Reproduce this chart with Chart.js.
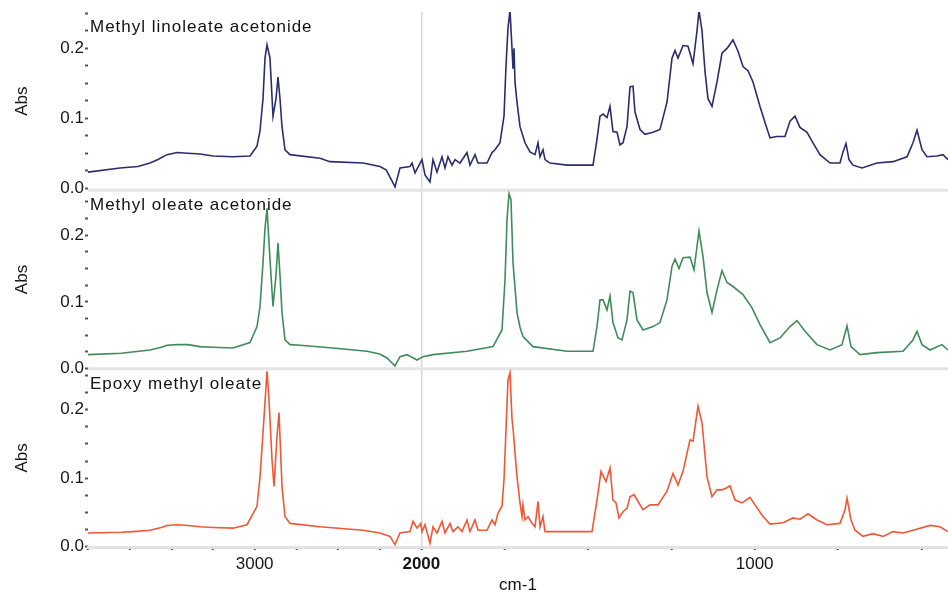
<!DOCTYPE html>
<html>
<head>
<meta charset="utf-8">
<script src="https://cdn.jsdelivr.net/npm/chart.js@4.4.1/dist/chart.umd.min.js"></script>
<style>
  html, body { margin: 0; padding: 0; background: #fff; }
  #wrap { width: 948px; height: 594px; }
</style>
</head>
<body>
<div id="wrap"><canvas id="spectra"></canvas></div>
<script>
// wavenumber axis runs 4000 -> 420 cm-1, below 2000 it is drawn at twice the scale
const X_MAX = 4000;
const X_MIN = 420;
const X_BREAK = 2000;
const xTicks = [4000, 3750, 3500, 3250, 3000, 2750, 2500, 2250, 2000, 1750, 1500, 1250, 1000, 750, 500];
const xLabelled = [3000, 2000, 1000];
const yTicks = [0, 0.025, 0.05, 0.075, 0.1, 0.125, 0.15, 0.175, 0.2, 0.225, 0.25];

const panelTitles = ['Methyl linoleate acetonide', 'Methyl oleate acetonide', 'Epoxy methyl oleate'];

const wnLinoleate = [
  4000, 3808, 3700, 3628, 3580, 3526, 3466, 3400, 3328, 3250, 3130, 3028, 2986, 2968,
  2950, 2938, 2926, 2908, 2890, 2872, 2860, 2848, 2836, 2818,
  2788, 2608, 2548, 2350, 2248, 2210, 2188, 2158, 2128, 2068, 2056,
  2038, 1998, 1989, 1974, 1965, 1953, 1938, 1929, 1920, 1908,
  1899, 1884, 1863, 1854, 1839, 1830, 1803, 1788, 1779, 1764,
  1752, 1746, 1740, 1734, 1728, 1725, 1722, 1719, 1713, 1704,
  1689, 1674, 1659, 1650, 1644, 1635, 1629, 1614, 1563, 1485,
  1473, 1464, 1455, 1443, 1434, 1425, 1413, 1404, 1395, 1383,
  1374, 1365, 1359, 1344, 1329, 1305, 1284, 1263, 1248, 1239,
  1230, 1215, 1200, 1185, 1173, 1167, 1158, 1149, 1140, 1128,
  1113, 1098, 1083, 1065, 1050, 1035, 1020, 1005, 984, 969,
  954, 933, 909, 894, 879, 864, 843, 825, 804, 774,
  744, 735, 726, 717, 705, 678, 633, 585, 543, 525,
  513, 498, 483, 453, 435, 420
];
const absLinoleate = [
  0.023, 0.029, 0.031, 0.036, 0.041, 0.048, 0.051, 0.050, 0.049, 0.046, 0.045, 0.046, 0.060, 0.082,
  0.128, 0.186, 0.205, 0.186, 0.103, 0.128, 0.159, 0.128, 0.088, 0.055,
  0.048, 0.043, 0.038, 0.036, 0.031, 0.026, 0.016, 0.002, 0.029, 0.031, 0.036,
  0.022, 0.041, 0.019, 0.009, 0.041, 0.023, 0.045, 0.029, 0.045, 0.033,
  0.041, 0.036, 0.051, 0.033, 0.048, 0.036, 0.036, 0.051, 0.055, 0.065,
  0.103, 0.175, 0.229, 0.254, 0.200, 0.171, 0.200, 0.152, 0.123, 0.088,
  0.065, 0.052, 0.048, 0.065, 0.045, 0.055, 0.041, 0.036, 0.033, 0.033,
  0.070, 0.103, 0.106, 0.101, 0.117, 0.081, 0.080, 0.062, 0.065, 0.088,
  0.145, 0.146, 0.109, 0.084, 0.077, 0.080, 0.084, 0.123, 0.186, 0.197,
  0.186, 0.204, 0.203, 0.178, 0.225, 0.254, 0.225, 0.167, 0.128, 0.117,
  0.152, 0.193, 0.200, 0.212, 0.196, 0.174, 0.168, 0.152, 0.117, 0.094,
  0.072, 0.074, 0.074, 0.096, 0.103, 0.087, 0.080, 0.065, 0.048, 0.036,
  0.036, 0.052, 0.064, 0.041, 0.033, 0.029, 0.036, 0.038, 0.045, 0.065,
  0.083, 0.055, 0.045, 0.046, 0.048, 0.041
];

const wnOleate = [
  4000, 3800, 3628, 3560, 3526, 3466, 3400, 3328, 3250, 3130, 3028, 2986, 2968, 2950,
  2938, 2926, 2908, 2890, 2872, 2860, 2848, 2836, 2818, 2788,
  2728, 2530, 2326, 2250, 2206, 2158, 2128, 2086, 2026, 1995, 1965,
  1863, 1785, 1758, 1749, 1743, 1737, 1731, 1725, 1713, 1704, 1695,
  1665, 1563, 1485, 1473, 1464, 1455, 1443, 1434, 1425, 1410,
  1398, 1383, 1374, 1365, 1353, 1335, 1305, 1284, 1263, 1248,
  1239, 1227, 1215, 1194, 1182, 1173, 1167, 1155, 1143, 1128,
  1113, 1098, 1083, 1065, 1035, 1008, 984, 954, 924, 894,
  873, 849, 813, 774, 738, 723, 711, 684, 633, 555,
  525, 513, 498, 474, 438, 420
];
const absOleate = [
  0.021, 0.023, 0.028, 0.032, 0.035, 0.036, 0.036, 0.033, 0.032, 0.031, 0.039, 0.063, 0.093, 0.159,
  0.210, 0.240, 0.163, 0.093, 0.140, 0.188, 0.140, 0.084, 0.043, 0.036,
  0.035, 0.031, 0.026, 0.022, 0.016, 0.004, 0.018, 0.021, 0.013, 0.018, 0.021,
  0.026, 0.033, 0.058, 0.133, 0.223, 0.262, 0.253, 0.159, 0.084, 0.062, 0.048,
  0.033, 0.026, 0.026, 0.063, 0.103, 0.103, 0.088, 0.109, 0.069, 0.046,
  0.043, 0.073, 0.116, 0.114, 0.073, 0.058, 0.063, 0.069, 0.103, 0.153,
  0.164, 0.150, 0.166, 0.167, 0.148, 0.183, 0.206, 0.168, 0.114, 0.084,
  0.118, 0.147, 0.129, 0.123, 0.111, 0.091, 0.066, 0.039, 0.046, 0.063,
  0.072, 0.056, 0.036, 0.028, 0.036, 0.064, 0.033, 0.021, 0.024, 0.026,
  0.043, 0.056, 0.036, 0.028, 0.036, 0.028
];

const wnEpoxy = [
  4000, 3800, 3730, 3628, 3560, 3526, 3466, 3400, 3328, 3250, 3130, 3046, 2986, 2968,
  2950, 2926, 2914, 2896, 2884, 2866, 2854, 2836, 2818, 2788,
  2608, 2350, 2248, 2188, 2158, 2128, 2068, 2050, 2026, 2004,
  1998, 1989, 1974, 1965, 1953, 1938, 1929, 1914, 1905, 1890,
  1878, 1863, 1854, 1839, 1830, 1803, 1788, 1779, 1770, 1758,
  1752, 1746, 1740, 1734, 1728, 1725, 1719, 1713, 1704, 1698,
  1695, 1689, 1680, 1668, 1659, 1650, 1644, 1635, 1629, 1614,
  1488, 1473, 1461, 1446, 1434, 1425, 1416, 1407, 1395, 1383,
  1374, 1362, 1350, 1335, 1314, 1290, 1263, 1245, 1230, 1215,
  1194, 1185, 1170, 1158, 1143, 1128, 1113, 1098, 1083, 1074,
  1059, 1038, 1014, 999, 975, 954, 915, 885, 864, 840,
  813, 783, 744, 729, 723, 711, 699, 675, 645, 615,
  585, 555, 525, 474, 444, 420
];
const absEpoxy = [
  0.020, 0.021, 0.022, 0.024, 0.028, 0.031, 0.032, 0.031, 0.029, 0.028, 0.027, 0.032, 0.059, 0.102,
  0.166, 0.256, 0.215, 0.127, 0.088, 0.161, 0.196, 0.088, 0.044, 0.034,
  0.029, 0.024, 0.020, 0.015, 0.003, 0.020, 0.022, 0.037, 0.027, 0.034,
  0.022, 0.032, 0.005, 0.029, 0.020, 0.037, 0.020, 0.034, 0.022, 0.029,
  0.022, 0.039, 0.022, 0.039, 0.024, 0.024, 0.039, 0.032, 0.049, 0.059,
  0.098, 0.171, 0.244, 0.254, 0.186, 0.174, 0.137, 0.102, 0.064, 0.044,
  0.061, 0.039, 0.044, 0.034, 0.029, 0.066, 0.029, 0.044, 0.022, 0.022,
  0.022, 0.068, 0.110, 0.095, 0.115, 0.068, 0.064, 0.042, 0.051, 0.056,
  0.073, 0.076, 0.066, 0.054, 0.061, 0.061, 0.081, 0.107, 0.090, 0.110,
  0.156, 0.154, 0.205, 0.181, 0.102, 0.073, 0.083, 0.083, 0.086, 0.089,
  0.068, 0.064, 0.072, 0.061, 0.044, 0.033, 0.035, 0.042, 0.040, 0.048,
  0.039, 0.032, 0.034, 0.054, 0.071, 0.039, 0.024, 0.015, 0.019, 0.015,
  0.022, 0.020, 0.024, 0.031, 0.029, 0.022
];

// position along the axis in "display units": 1 unit = 2 cm-1 above 2000, 1 cm-1 below
function irUnits(wn) {
  const half = (X_MAX - X_BREAK) / 2;
  return wn >= X_BREAK ? (X_MAX - wn) / 2 : half + (X_BREAK - wn);
}
const IR_SPAN = irUnits(X_MIN);

class IrScale extends Chart.LinearScale {
  buildTicks() {
    return xTicks.map(v => ({ value: v }));
  }
  getPixelForValue(v) {
    return this.getPixelForDecimal(irUnits(v) / IR_SPAN);
  }
  getValueForPixel(p) {
    const u = this.getDecimalForPixel(p) * IR_SPAN;
    const half = (X_MAX - X_BREAK) / 2;
    return u <= half ? X_MAX - 2 * u : X_BREAK - (u - half);
  }
}
IrScale.id = 'ir';
IrScale.defaults = Chart.LinearScale.defaults;
Chart.register(IrScale);

Chart.defaults.font.family = '"Liberation Sans", Arial, sans-serif';
Chart.defaults.color = '#151515';

function points(wn, abs) {
  return wn.map((x, i) => ({ x, y: abs[i] }));
}

function panelAxis(min, max) {
  return {
    type: 'linear',
    position: 'left',
    stack: 'panels',
    stackWeight: 1,
    min, max,
    border: { display: false },
    grid: { drawOnChartArea: false, tickLength: 3, tickWidth: 2, tickColor: '#555' },
    afterBuildTicks: s => { s.ticks = yTicks.map(v => ({ value: v })); },
    afterFit: s => { s.width = 88; },
    ticks: {
      autoSkip: false,
      padding: 1,
      font: { size: 17 },
      callback: v => Math.abs(v * 10 - Math.round(v * 10)) < 1e-6 ? v.toFixed(1) : ''
    },
    title: { display: true, text: 'Abs', font: { size: 17 }, padding: { top: 12, bottom: 0 } }
  };
}

const panelIds = ['yTop', 'yMid', 'yBot'];

const panelDecor = {
  id: 'panelDecor',
  beforeDatasetsDraw(chart) {
    const { ctx, chartArea } = chart;
    ctx.save();
    ctx.strokeStyle = '#e4e4e4';
    ctx.lineWidth = 3;
    panelIds.slice(0, 2).forEach(id => {
      const s = chart.scales[id];
      ctx.beginPath();
      ctx.moveTo(chartArea.left, s.bottom);
      ctx.lineTo(chartArea.right, s.bottom);
      ctx.stroke();
    });
    ctx.restore();
  },
  afterDatasetsDraw(chart) {
    const { ctx, chartArea } = chart;
    ctx.save();
    ctx.font = '17px "Liberation Sans", Arial, sans-serif';
    ctx.fillStyle = '#111';
    ctx.textBaseline = 'alphabetic';
    if ('letterSpacing' in ctx) ctx.letterSpacing = '1px';
    panelIds.forEach((id, i) => {
      const s = chart.scales[id];
      ctx.fillText(panelTitles[i], chartArea.left + 2, s.top + 20);
    });
    ctx.restore();
  }
};

new Chart(document.getElementById('spectra'), {
  type: 'line',
  plugins: [panelDecor],
  data: {
    datasets: [
      { label: panelTitles[0], data: points(wnLinoleate, absLinoleate), yAxisID: 'yTop', borderColor: '#2b2c6c' },
      { label: panelTitles[1], data: points(wnOleate, absOleate), yAxisID: 'yMid', borderColor: '#3f8b5b' },
      { label: panelTitles[2], data: points(wnEpoxy, absEpoxy), yAxisID: 'yBot', borderColor: '#ef5834' }
    ]
  },
  options: {
    responsive: true,
    maintainAspectRatio: false,
    animation: false,
    devicePixelRatio: 1,
    events: [],
    layout: { padding: { top: 12, right: 0, bottom: 0, left: 0 } },
    elements: {
      line: { borderWidth: 1.6, tension: 0 },
      point: { radius: 0 }
    },
    plugins: { legend: { display: false }, tooltip: { enabled: false } },
    scales: {
      x: {
        type: 'ir',
        position: 'bottom',
        min: X_MIN,
        max: X_MAX,
        border: { color: '#e2e2e2', width: 3 },
        grid: {
          color: ctx => ctx.tick && ctx.tick.value === X_BREAK ? '#d8d8d8' : 'rgba(0,0,0,0)',
          lineWidth: 1.5,
          tickColor: '#444',
          tickLength: 3,
          tickWidth: 2
        },
        ticks: {
          autoSkip: false,
          maxRotation: 0,
          padding: 4,
          font: ctx => ({ size: 17, weight: ctx.tick && ctx.tick.value === X_BREAK ? 'bold' : 'normal' }),
          callback: v => xLabelled.includes(v) ? String(v) : ''
        },
        title: { display: true, text: 'cm-1', font: { size: 17, lineHeight: 1 }, padding: 0 },
        afterFit: s => { s.height = 47; }
      },
      yBot: panelAxis(-0.0005, 0.26),
      yMid: panelAxis(0, 0.267),
      yTop: panelAxis(-0.003, 0.252)
    }
  }
});
</script>
</body>
</html>
